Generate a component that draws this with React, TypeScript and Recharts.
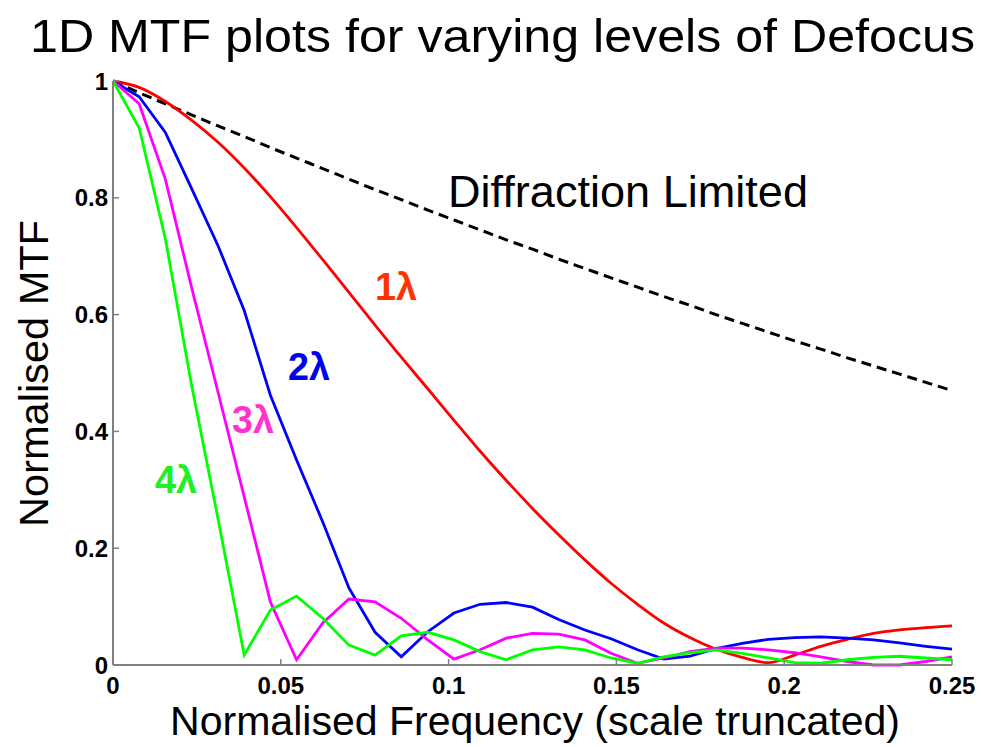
import { LineChart, Line, XAxis, YAxis } from 'recharts'

// normalised frequency samples (k/128)
const FREQ = [
  0, 0.0078, 0.0156, 0.0234, 0.0313, 0.0391, 0.0469, 0.0547, 0.0625, 0.0703, 0.0781,
  0.0859, 0.0938, 0.1016, 0.1094, 0.1172, 0.125, 0.1328, 0.1406, 0.1484, 0.1563, 0.1641,
  0.1719, 0.1797, 0.1875, 0.1953, 0.2031, 0.2109, 0.2188, 0.2266, 0.2344, 0.2422, 0.25,
]

const DIFF_LIMITED = [
  1.0, 0.98, 0.961, 0.942, 0.923, 0.905, 0.886, 0.868, 0.85, 0.832, 0.814,
  0.797, 0.779, 0.762, 0.745, 0.728, 0.712, 0.695, 0.679, 0.663, 0.647, 0.631,
  0.616, 0.6, 0.585, 0.57, 0.555, 0.541, 0.526, 0.512, 0.498, 0.484, 0.47,
]

const DEFOCUS_1 = [
  1.0, 0.989, 0.965, 0.933, 0.895, 0.851, 0.802, 0.749, 0.694, 0.638, 0.582,
  0.527, 0.473, 0.419, 0.366, 0.316, 0.268, 0.223, 0.18, 0.14, 0.104, 0.072,
  0.047, 0.027, 0.013, 0.004, 0.017, 0.032, 0.044, 0.054, 0.06, 0.064, 0.067,
]

const DEFOCUS_2 = [
  1.0, 0.973, 0.912, 0.816, 0.718, 0.607, 0.462, 0.351, 0.245, 0.132, 0.056,
  0.014, 0.057, 0.089, 0.104, 0.107, 0.099, 0.078, 0.06, 0.045, 0.026, 0.01,
  0.015, 0.028, 0.037, 0.044, 0.047, 0.048, 0.046, 0.043, 0.038, 0.032, 0.027,
]

const DEFOCUS_3 = [
  1.0, 0.961, 0.832, 0.647, 0.467, 0.288, 0.108, 0.009, 0.072, 0.113, 0.108,
  0.08, 0.043, 0.01, 0.026, 0.046, 0.054, 0.053, 0.043, 0.02, 0.003, 0.012,
  0.023, 0.029, 0.029, 0.026, 0.021, 0.014, 0.006, 0.0, 0.0, 0.006, 0.014,
]

const DEFOCUS_4 = [
  1.0, 0.92, 0.73, 0.48, 0.25, 0.017, 0.094, 0.118, 0.08, 0.034, 0.017,
  0.05, 0.056, 0.043, 0.023, 0.009, 0.026, 0.031, 0.026, 0.012, 0.003, 0.014,
  0.021, 0.026, 0.02, 0.012, 0.004, 0.003, 0.009, 0.013, 0.015, 0.012, 0.009,
]

const X_TICKS = [0, 0.05, 0.1, 0.15, 0.2, 0.25]
const Y_TICKS = [0, 0.2, 0.4, 0.6, 0.8, 1]

const rows = FREQ.map((f, i) => ({
  f,
  dl: DIFF_LIMITED[i],
  d1: DEFOCUS_1[i],
  d2: DEFOCUS_2[i],
  d3: DEFOCUS_3[i],
  d4: DEFOCUS_4[i],
}))

const FONT = '"Liberation Sans", Arial, Helvetica, sans-serif'
const tickStyle = { fill: '#000', fontSize: 24, fontWeight: 700, fontFamily: FONT }
const axisLine = { stroke: '#808080', strokeWidth: 2 }

export default function App() {
  return (
    <div style={{ position: 'absolute', left: 0, top: 0, width: 981, height: 747, background: '#fff' }}>
      <LineChart
        width={981}
        height={747}
        data={rows}
        margin={{ top: 81, right: 29, left: 43, bottom: 42 }}
      >
        <XAxis
          dataKey="f"
          type="number"
          domain={[0, 0.25]}
          ticks={X_TICKS}
          interval={0}
          height={40}
          axisLine={axisLine}
          tickLine={{ stroke: '#808080', strokeWidth: 1.5 }}
          tickSize={-6}
          tickMargin={18}
          tick={tickStyle}
        />
        <YAxis
          type="number"
          domain={[0, 1]}
          ticks={Y_TICKS}
          interval={0}
          width={70}
          axisLine={axisLine}
          tickLine={{ stroke: '#808080', strokeWidth: 1.5 }}
          tickSize={-6}
          tickMargin={11}
          tick={tickStyle}
        />
        <Line dataKey="dl" stroke="#000" strokeWidth={3} strokeDasharray="10 6" dot={false} type="monotone" isAnimationActive={false} />
        <Line dataKey="d1" stroke="#ff0000" strokeWidth={2.8} dot={false} type="monotone" isAnimationActive={false} />
        <Line dataKey="d2" stroke="#0000ff" strokeWidth={2.8} dot={false} type="linear" isAnimationActive={false} />
        <Line dataKey="d3" stroke="#ff00ff" strokeWidth={2.8} dot={false} type="linear" isAnimationActive={false} />
        <Line dataKey="d4" stroke="#00ff00" strokeWidth={2.8} dot={false} type="linear" isAnimationActive={false} />
      </LineChart>

      <svg
        width={981}
        height={747}
        style={{ position: 'absolute', left: 0, top: 0, pointerEvents: 'none' }}
        fontFamily={FONT}
      >
        <text x={30} y={52} fontSize={46} textLength={945} lengthAdjust="spacingAndGlyphs">
          1D MTF plots for varying levels of Defocus
        </text>
        <text x={170} y={735} fontSize={40} textLength={730} lengthAdjust="spacingAndGlyphs">
          Normalised Frequency (scale truncated)
        </text>
        <text
          x={0}
          y={0}
          fontSize={41}
          transform="translate(48 527) rotate(-90)"
          textLength={307}
          lengthAdjust="spacingAndGlyphs"
        >
          Normalised MTF
        </text>
        <text x={448} y={207} fontSize={44} textLength={360} lengthAdjust="spacingAndGlyphs">
          Diffraction Limited
        </text>
        <text x={375} y={300} fontSize={38} fontWeight={700} fill="#ff3300" textLength={42} lengthAdjust="spacingAndGlyphs">
          1λ
        </text>
        <text x={288} y={380} fontSize={38} fontWeight={700} fill="#0000ee" textLength={42} lengthAdjust="spacingAndGlyphs">
          2λ
        </text>
        <text x={232} y={433} fontSize={38} fontWeight={700} fill="#ff33cc" textLength={42} lengthAdjust="spacingAndGlyphs">
          3λ
        </text>
        <text x={155} y={493} fontSize={38} fontWeight={700} fill="#22ee22" textLength={42} lengthAdjust="spacingAndGlyphs">
          4λ
        </text>
      </svg>
    </div>
  )
}
